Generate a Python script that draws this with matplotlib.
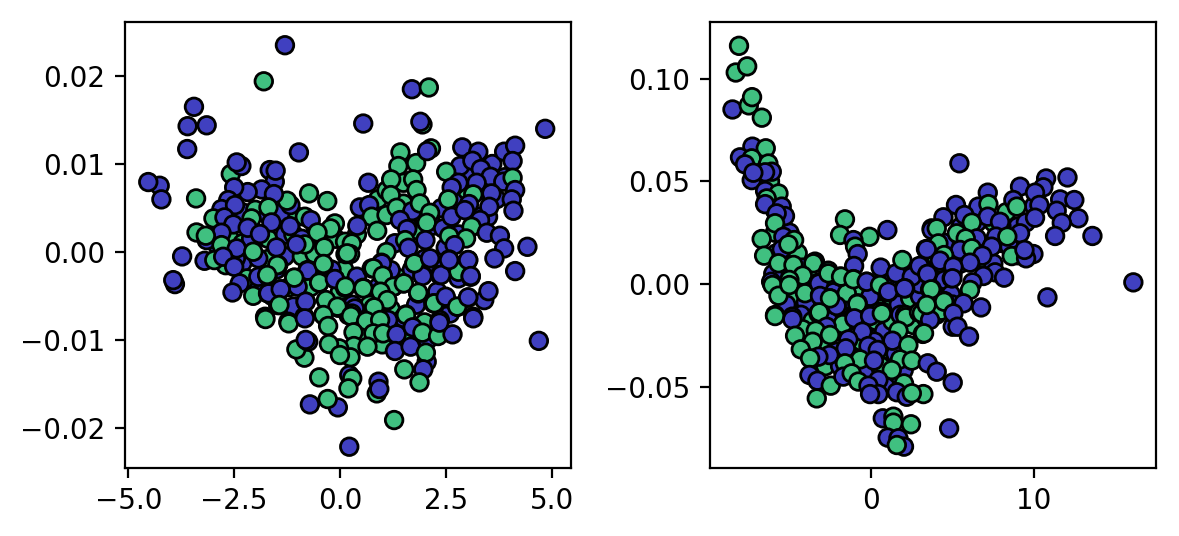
import matplotlib
matplotlib.use("Agg")
import matplotlib.pyplot as plt

BLUE = "#4040C0"
GREEN = "#40C080"

# points mostly hidden inside the dense clouds, drawn first
left_back_x = [
 -2.9,-2.6,-2.3,-2.0,-1.7,-1.4,-1.0,-0.6,-2.9,-2.6,-2.3,-2.1,-1.7,-1.3,-1.1,-0.9,
 -3.2,-2.7,-2.3,-1.7,-1.3,-0.9,-0.6,-2.2,-1.9,-1.5,-1.2,-0.7,-1.6,-1.1,
 0.4,0.1,0.4,0.7,0.9,0.5,1.2,1.5,1.8,1.4,1.7,1.3,1.8,2.2,2.5,2.8,3.2,3.5,2.2,2.4,
 2.7,3.0,3.4,3.7,3.9,3.6,3.0,2.7,3.3,2.9,2.3,2.6,2.0,1.6,1.0,0.6,0.3,0.0,-0.2,-0.1,
 1.1,0.9,1.1,1.5,1.6,2.3,2.8,
]
left_back_y = [
 0.0030,0.0042,0.0045,0.0048,0.0042,0.0044,0.0040,0.0020,0.0008,0.0015,0.0010,0.0015,0.0015,0.0020,0.0020,0.0015,
 -0.0010,-0.0015,-0.0012,-0.0008,-0.0005,-0.0005,-0.0002,-0.0030,-0.0040,-0.0020,-0.0040,-0.0040,-0.0050,-0.0062,
 0.0020,-0.0020,-0.0028,-0.0060,-0.0040,-0.0080,-0.0065,-0.0075,-0.0060,-0.0030,-0.0020,0.0010,0.0025,-0.0015,0.0005,0.0020,0.0030,0.0040,0.0030,0.0050,
 0.0060,0.0070,0.0070,0.0060,0.0085,0.0100,0.0090,0.0075,0.0040,-0.0015,-0.0045,-0.0070,-0.0080,-0.0095,-0.0105,-0.0095,-0.0060,-0.0045,-0.0020,0.0015,
 0.0000,0.0060,0.0070,0.0055,0.0030,-0.0095,-0.0030,
]
left_back_group = list(
 "BGBGBBGGBGGBGBGB"
 "BGBGBGGGBBGGGB"
 "GGBGBGGBBGBBGBBBBBBB"
 "BGBBBBBGBGBBGGGGBGBG"
 "GGGGBBB"
)

left_x = [
 -1.30,-1.80,-3.45,-3.60,-3.15,4.85,1.70,2.10,0.55,1.95,1.90,
 -3.61,-0.97,-4.26,-4.53,-4.22,-3.40,-3.73,-3.90,-3.94,
 -2.58,-2.33,-2.44,-1.66,-1.54,-1.52,-1.85,-2.18,-2.50,-1.17,-1.25,-1.56,-0.73,-0.30,
 -2.64,-2.80,-2.48,-1.69,-2.99,-2.73,-2.09,-1.62,-1.18,-0.83,-0.69,-0.12,-0.22,-0.53,
 -2.52,-2.18,-1.89,-2.80,-3.39,-3.15,-3.17,-2.80,-0.83,-1.03,-1.50,-0.37,0.12,0.13,
 -2.46,-2.44,-1.93,-2.05,-2.97,-2.76,-2.50,-1.46,-0.39,-0.77,-1.93,-1.71,-1.08,-0.12,0.12,
 -0.49,-1.00,-1.40,-2.37,-2.54,-2.05,-1.70,-0.81,-1.46,-0.32,-0.04,-1.77,-0.84,-0.39,-1.22,0.20,
 1.43,1.38,1.80,1.50,1.21,1.73,1.81,0.67,1.20,2.15,2.06,2.89,3.27,3.88,4.14,4.08,
 2.84,2.51,3.13,3.33,3.56,3.86,4.08,4.14,2.80,2.64,3.23,3.58,3.15,2.56,3.05,3.53,4.06,4.10,
 0.47,0.69,0.75,1.10,1.34,1.71,1.89,2.13,0.41,0.88,1.42,1.59,2.05,2.44,2.64,2.95,3.31,3.11,
 3.47,3.78,2.98,2.58,3.88,3.65,4.43,4.14,1.54,2.02,2.71,1.62,3.03,2.58,2.01,1.76,1.95,2.36,
 2.80,3.09,0.28,0.24,0.75,0.98,1.20,1.00,0.55,1.26,1.50,0.96,1.10,1.85,2.21,2.50,3.41,3.51,3.03,
 2.78,3.15,0.79,1.56,0.93,0.35,0.28,0.59,2.36,
 0.17,-1.48,-0.76,-0.39,-1.08,-1.72,-1.69,-1.40,-0.49,-0.12,0.13,-0.81,-1.43,-1.76,-1.21,-0.83,
 -0.33,-0.06,-0.39,-0.28,0.26,0.55,0.99,0.79,1.01,1.26,0.96,1.12,1.51,0.81,0.62,1.14,0.95,1.56,
 0.32,0.79,1.02,1.34,1.72,2.07,1.95,2.32,2.66,2.35,2.23,2.50,2.77,3.03,3.15,1.95,1.76,2.39,2.58,
 3.03,3.09,2.13,1.85,0.33,0.65,-0.02,-0.26,0.25,0.00,-0.84,-1.03,-0.75,-0.81,1.30,1.67,2.05,2.03,
 1.97,1.52,1.88,-0.49,0.22,0.29,0.20,0.91,0.87,0.93,-0.71,-0.05,-0.29,1.28,0.22,4.70,
]
left_y = [
 0.0235,0.0194,0.0165,0.0143,0.0144,0.0140,0.0185,0.0187,0.0146,0.0145,0.0148,
 0.01170,0.01132,0.00753,0.00795,0.00598,0.00609,-0.00050,-0.00365,-0.00320,
 0.00886,0.00977,0.01018,0.00931,0.00799,0.00924,0.00711,0.00681,0.00734,0.00533,0.00583,0.00658,0.00666,0.00579,
 0.00590,0.00488,0.00533,0.00507,0.00382,0.00393,0.00382,0.00336,0.00294,0.00401,0.00363,0.00325,0.00268,0.00222,
 0.00313,0.00275,0.00204,0.00219,0.00222,0.00135,0.00185,0.00078,0.00086,0.00086,0.00052,0.00052,0.00116,-0.00024,
 -0.00073,0.00041,-0.00073,0.00003,-0.00092,-0.00054,-0.00168,-0.00149,-0.00141,-0.00206,-0.00282,-0.00270,-0.00293,-0.00308,-0.00407,
 -0.00350,-0.00395,-0.00426,-0.00357,-0.00460,-0.00498,-0.00471,-0.00566,-0.00604,-0.00558,-0.00634,-0.00736,-0.00736,-0.00717,-0.00793,-0.00717,
 0.01132,0.00977,0.01011,0.00787,0.00825,0.00825,0.00704,0.00787,0.00647,0.01178,0.01147,0.01189,0.01140,0.01140,0.01208,0.01034,
 0.00977,0.00912,0.01037,0.00943,0.00855,0.00799,0.00844,0.00704,0.00787,0.00734,0.00787,0.00666,0.00655,0.00598,0.00545,0.00514,0.00598,0.00469,
 0.00507,0.00533,0.00401,0.00420,0.00503,0.00465,0.00552,0.00446,0.00298,0.00241,0.00363,0.00260,0.00332,0.00268,0.00401,0.00476,0.00363,0.00287,
 0.00219,0.00185,0.00154,0.00181,0.00041,-0.00073,0.00059,-0.00217,0.00135,0.00135,0.00078,0.00048,-0.00092,-0.00085,-0.00073,-0.00130,-0.00263,-0.00263,
 -0.00225,-0.00282,0.00097,-0.00024,-0.00187,-0.00122,-0.00206,-0.00263,-0.00407,-0.00395,-0.00357,-0.00452,-0.00554,-0.00471,-0.00585,-0.00528,-0.00547,-0.00445,-0.00520,
 -0.00623,-0.00736,-0.00642,-0.00710,-0.00755,-0.00642,-0.00699,-0.00774,-0.00774,
 -0.00015,-0.00148,-0.00212,-0.00136,-0.00292,-0.00261,-0.00470,-0.00424,-0.00348,-0.00307,-0.00394,-0.00564,-0.00602,-0.00762,-0.00811,-0.00754,
 -0.00546,-0.00621,-0.00716,-0.00841,-0.00727,-0.00413,-0.00129,-0.00185,-0.00269,-0.00394,-0.00451,-0.00546,-0.00356,-0.00629,-0.00784,-0.00773,-0.00773,-0.00716,
 -0.00913,-0.00925,-0.00925,-0.00936,-0.00856,-0.01000,-0.00917,-0.00955,-0.00936,-0.00803,-0.00583,-0.00508,-0.00621,-0.00515,-0.00754,-0.00273,-0.00129,-0.00261,-0.00091,
 -0.00091,-0.00273,-0.00072,-0.00462,-0.01069,-0.01076,-0.01095,-0.01046,-0.01197,-0.01171,-0.01201,-0.01107,-0.01019,-0.00999,-0.01125,-0.01076,-0.01247,-0.01144,
 -0.01334,-0.01334,-0.01482,-0.01425,-0.01398,-0.01436,-0.01550,-0.01474,-0.01607,-0.01557,-0.01732,-0.01766,-0.01671,-0.01910,-0.02213,-0.01010,
]
left_group = list(
 "BGBBBBBGBGB"
 "BBBBBGBBB"
 "GBBBBBBBBBGBGG"
 "BBBGGBGBBGBGGG"
 "BBBBGBGGGBBGGG"
 "BBBGGBBGGBBGGBG"
 "GBBBBGBBGGGGBGGG"
 "GGGGGGGBGGBBBBBB"
 "BGBBBBGBBBBBGGBBBB"
 "BBGGGBGGBGBBGBBBBG"
 "BBGGBBBBGBBBBBBGBB"
 "GBGGGBBGGGGGGGGBBBB"
 "GBGGGBGGB"
 "GGBGGGBBGBGBGGGB"
 "GGGGGGBGGGGGGGGBGG"
 "GGGBBBGGBBGBGBBBGBB"
 "BBBGGGGGGGGGBBBBBG"
 "BGGGBGGBGBBBGGBB"
)

right_back_x = [
 -7.0,-6.2,-5.9,-5.9,-5.4,-5.0,-5.8,-5.2,-4.5,-4.2,-3.8,-5.5,-4.8,-6.0,-5.3,-4.6,-4.0,-5.2,-4.3,-3.6,
 -3.0,-2.3,-1.7,-1.2,-0.6,0.1,0.6,1.2,1.7,2.4,3.0,3.5,4.0,2.5,1.0,3.0,3.9,4.3,
 -4.2,-3.3,-2.6,-2.0,-1.4,-0.8,-0.3,0.3,0.8,1.3,1.8,2.6,3.4,4.0,-2.9,-2.1,-1.2,-0.6,0.2,0.9,1.5,
 -3.5,-2.8,-1.9,-1.1,-0.3,0.6,1.3,2.0,-0.4,0.3,0.9,
 5.0,5.5,6.0,6.5,7.0,7.5,8.0,8.5,9.0,9.5,8.0,7.5,6.5,6.0,5.5,4.8,4.5,4.0,3.8,4.5,4.9,4.3,5.0,9.0,9.5,10.0,8.3,7.7,
]
right_back_y = [
 0.0600,0.0500,0.0360,0.0250,0.0280,0.0250,0.0150,0.0120,0.0150,0.0080,0.0030,0.0040,0.0020,0.0050,-0.0020,-0.0060,-0.0090,-0.0100,-0.0150,-0.0180,
 -0.0120,-0.0040,-0.0080,-0.0020,-0.0030,-0.0080,-0.0120,-0.0060,-0.0100,-0.0070,-0.0060,-0.0100,-0.0060,0.0060,0.0000,0.0000,0.0050,0.0100,
 -0.0220,-0.0250,-0.0180,-0.0230,-0.0180,-0.0130,-0.0200,-0.0180,-0.0230,-0.0180,-0.0150,-0.0200,-0.0170,-0.0150,-0.0300,-0.0330,-0.0280,-0.0280,-0.0280,-0.0320,-0.0340,
 -0.0340,-0.0400,-0.0400,-0.0370,-0.0390,-0.0400,-0.0450,-0.0420,-0.0440,-0.0500,-0.0500,
 0.0050,0.0100,0.0150,0.0180,0.0120,0.0100,0.0200,0.0180,0.0280,0.0300,0.0280,0.0300,0.0300,0.0250,0.0280,0.0200,0.0200,0.0130,0.0000,0.0020,-0.0050,-0.0130,-0.0100,0.0140,0.0150,0.0380,0.0350,0.0370,
]
right_back_group = list(
 "GGBGBBGBGBGBGBBGBBBG"
 "BBBBGBGGBGBGBGBBBB"
 "GBBGGBBGBGBGBGGBGGBGB"
 "BGBBGGBBBG"
 "BBBBBGBBBBBBGBBBGBGBBBGBBBBG"
)

right_x = [
 -8.10,-8.30,-7.60,-8.50,-7.50,-7.30,-6.70,
 -7.28,-6.46,-8.04,-7.32,-6.30,-7.73,-7.32,-6.09,-6.50,-7.22,-6.50,-5.68,-6.40,-6.50,-5.48,-5.28,-5.79,
 -5.89,-6.71,-6.56,-5.38,-4.72,-5.48,-5.07,-5.68,-3.44,-4.76,-3.54,-4.19,-2.62,-5.01,-6.13,-6.05,-5.68,
 -1.60,-1.90,-0.10,1.00,-1.08,-0.98,-0.82,-1.04,-1.90,-1.08,-0.27,0.59,0.51,1.53,1.92,2.50,2.97,3.46,3.37,3.72,
 -5.01,-4.05,-3.23,-3.13,-2.51,-2.11,-5.89,-4.83,-3.23,-1.49,-0.06,-0.82,1.06,2.09,3.62,2.97,2.09,-0.10,0.55,-1.08,
 -3.19,-3.13,-2.62,-1.84,-1.08,-0.27,0.55,1.06,2.05,3.72,4.50,4.95,-2.11,-0.84,-2.52,-5.89,-4.83,-3.17,-1.74,-1.02,
 -0.06,0.66,2.13,2.94,5.01,3.17,1.68,1.31,-2.72,-0.53,-3.39,-4.66,-3.58,-2.52,-1.39,-4.31,-1.55,-0.16,2.29,0.41,
 1.78,2.50,-2.56,-3.23,-3.74,-0.67,0.18,3.48,4.03,1.27,-1.60,-3.78,-3.29,-2.47,-3.33,-1.70,-1.19,5.01,0.45,-0.78,
 -0.16,0.45,-0.06,2.02,1.58,2.19,3.21,2.50,0.72,1.37,1.37,2.45,4.79,1.02,1.68,2.02,1.58,
 5.42,10.74,12.05,9.14,10.57,10.06,7.16,11.60,12.47,5.21,8.73,6.58,7.20,10.33,8.94,11.39,4.44,5.73,7.16,10.06,12.72,11.70,
 6.18,7.91,11.29,13.58,3.72,4.03,5.26,9.14,7.67,8.36,6.48,5.81,4.13,3.42,5.46,6.18,4.48,7.40,6.83,8.63,9.96,9.51,9.41,
 6.07,4.23,5.05,7.61,8.16,6.89,3.46,4.99,6.22,3.82,3.68,6.07,10.82,16.09,4.48,5.67,6.75,5.05,3.11,3.62,5.30,6.01,3.25,3.41,
]
right_y = [
 0.116,0.103,0.106,0.085,0.087,0.091,0.081,
 0.0669,0.0661,0.0617,0.0612,0.0587,0.0583,0.0506,0.0547,0.0544,0.0542,0.0453,0.0441,0.0417,0.0389,0.0377,0.0331,0.0344,
 0.0296,0.0219,0.0138,0.0230,0.0214,0.0169,0.0193,0.0101,0.0109,0.0093,0.0101,0.0041,0.0065,0.0020,0.0011,-0.0005,-0.0057,
 0.0315,0.0239,0.0230,0.0263,0.0214,0.0182,0.0146,0.0088,0.0036,0.0024,0.0011,0.0080,-0.0005,0.0052,0.0117,0.0036,0.0088,0.0049,0.0170,0.0271,
 -0.0005,-0.0045,0.0006,-0.0053,-0.0070,-0.0105,-0.0151,-0.0159,-0.0143,-0.0045,-0.0062,-0.0094,-0.0040,-0.0021,-0.0026,-0.0138,-0.0151,-0.0151,-0.0135,-0.0159,
 0.0003,-0.0058,0.0052,0.0036,0.0023,0.0011,-0.0005,-0.0037,-0.0021,-0.0024,-0.0083,0.0028,-0.0107,-0.0097,-0.0070,-0.0156,-0.0172,-0.0138,-0.0195,-0.0167,
 -0.0156,-0.0143,-0.0162,-0.0138,-0.0208,-0.0243,-0.0227,-0.0276,-0.0208,-0.0232,-0.0227,-0.0252,-0.0281,-0.0248,-0.0270,-0.0318,-0.0313,-0.0302,-0.0297,-0.0321,
 -0.0367,-0.0373,-0.0346,-0.0354,-0.0362,-0.0367,-0.0373,-0.0386,-0.0427,-0.0419,-0.0386,-0.0443,-0.0471,-0.0495,-0.0557,-0.0451,-0.0435,-0.0480,-0.0467,-0.0475,
 -0.0495,-0.0536,-0.0536,-0.0484,-0.0527,-0.0549,-0.0536,-0.0532,-0.0654,-0.0646,-0.0675,-0.0683,-0.0703,-0.0748,-0.0751,-0.0792,-0.0784,
 0.0588,0.0514,0.0519,0.0474,0.0471,0.0445,0.0445,0.0412,0.0409,0.0385,0.0409,0.0377,0.0389,0.0385,0.0377,0.0357,0.0325,0.0336,0.0328,0.0323,0.0320,0.0298,
 0.0299,0.0303,0.0234,0.0234,0.0263,0.0271,0.0247,0.0247,0.0231,0.0231,0.0222,0.0222,0.0198,0.0169,0.0166,0.0174,0.0141,0.0182,0.0138,0.0136,0.0146,0.0125,0.0166,
 0.0104,0.0114,0.0084,0.0057,0.0031,0.0039,0.0049,0.0028,0.0008,-0.0046,-0.0026,-0.0029,-0.0065,0.0008,-0.0086,-0.0094,-0.0114,-0.0143,-0.0143,-0.0175,-0.0208,-0.0256,-0.0240,-0.0102,
]
right_group = list(
 "GGGBGGG"
 "BGBGGBBBBBBGGBBBB"
 "GGGBGBGGBGGGGGBGG"
 "GGGBBGBBGGBBGBGBBBBG"
 "GGBBGBGBGGBGBBGGGBGB"
 "BBGGGBGBBGGBBGGGBGGB"
 "BGGGBGGBBBGGGGBGBBGB"
 "GGBBGGBBBGGBBGGBGBBG"
 "BBBGBBGGBGGGBBBBG"
 "BBBBBBBBBBBBGBGBBBBBBB"
 "GBBBBGGBBGBGGBBGGBBGBBB"
 "BBBBBBBBBBGGBBGBBBGBBBGG"
)

def merged(xs, ys, gs):
    n = min(len(xs), len(ys), len(gs))
    return xs[:n], ys[:n], gs[:n]

print(len(left_back_x), len(left_back_y), len(left_back_group),
      len(right_back_x), len(right_back_y), len(right_back_group))

bx, by, bg = merged(left_back_x, left_back_y, left_back_group)
fx, fy, fg = merged(left_x, left_y, left_group)
rbx, rby, rbg = merged(right_back_x, right_back_y, right_back_group)
rfx, rfy, rfg = merged(right_x, right_y, right_group)

fig = plt.figure(figsize=(5.895, 2.68), dpi=200)
W, H = 1179, 536
ax1 = fig.add_axes([125/W, 1-468/H, 446/W, 446/H])
ax2 = fig.add_axes([710/W, 1-468/H, 446/W, 446/H])

cmap = {"B": BLUE, "G": GREEN}
ax1.scatter(bx + fx, by + fy, s=40, c=[cmap[g] for g in bg + fg],
            edgecolors="k", linewidths=1)
ax2.scatter(rbx + rfx, rby + rfy, s=40, c=[cmap[g] for g in rbg + rfg],
            edgecolors="k", linewidths=1)

ax1.set_xlim(-5.08, 5.46)
ax1.set_ylim(-0.02455, 0.02614)
ax1.set_xticks([-5.0, -2.5, 0.0, 2.5, 5.0])
ax1.set_xticklabels(["\u22125.0", "\u22122.5", "0.0", "2.5", "5.0"])
ax1.set_yticks([-0.02, -0.01, 0.0, 0.01, 0.02])
ax1.set_yticklabels(["\u22120.02", "\u22120.01", "0.00", "0.01", "0.02"])

ax2.set_xlim(-9.88, 17.48)
ax2.set_ylim(-0.0896, 0.1276)
ax2.set_xticks([0, 10])
ax2.set_yticks([-0.05, 0.0, 0.05, 0.10])
ax2.set_yticklabels(["\u22120.05", "0.00", "0.05", "0.10"])

fig.savefig("out.png", dpi=200)
